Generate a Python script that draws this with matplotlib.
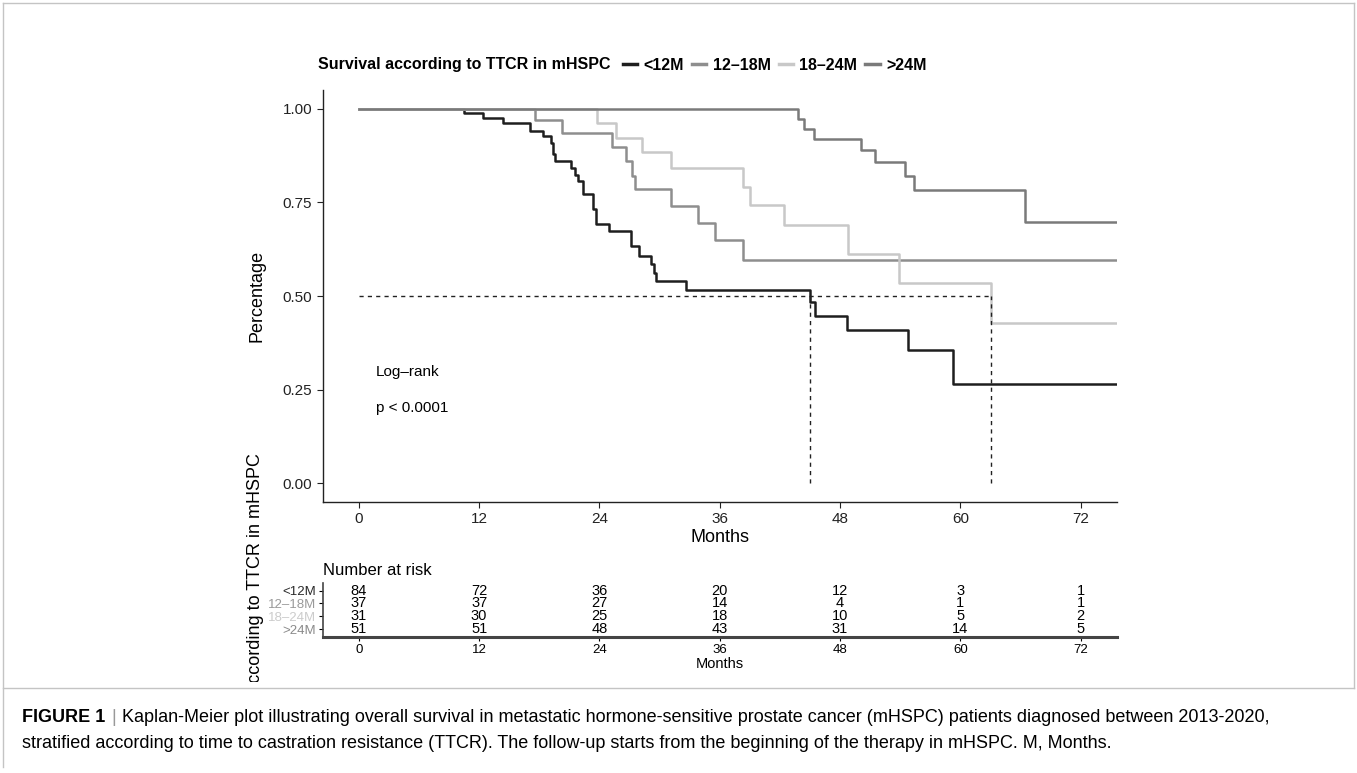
import matplotlib
matplotlib.use('Agg')
import matplotlib.pyplot as plt
from matplotlib.lines import Line2D
from matplotlib.patches import Rectangle

plt.rcParams['font.family'] = ['Liberation Sans', 'DejaVu Sans']

# --- data ---
groups = ['<12M', '12–18M', '18–24M', '>24M']
colors = ['#1e1e1e', '#8e8e8e', '#c8c8c8', '#7a7a7a']
label_colors = ['#2a2a2a', '#9a9a9a', '#cccccc', '#8a8a8a']

t_lt12 = [0, 10.5, 12.4, 14.4, 17.1, 18.4, 19.2, 19.4, 19.6, 21.2, 21.6, 21.9, 22.4,
          23.4, 23.7, 25.0, 27.2, 28.0, 29.1, 29.4, 29.6, 32.6, 45.0, 45.5, 48.7,
          54.8, 59.3, 76]
s_lt12 = [1.0, 0.988, 0.976, 0.962, 0.941, 0.926, 0.908, 0.878, 0.861, 0.842, 0.824,
          0.806, 0.772, 0.731, 0.692, 0.673, 0.633, 0.608, 0.585, 0.562, 0.540, 0.517,
          0.483, 0.446, 0.408, 0.356, 0.266, 0.266]

t_12_18 = [0, 17.6, 20.3, 25.3, 26.7, 27.3, 27.6, 31.1, 33.8, 35.5, 38.3, 76]
s_12_18 = [1.0, 0.969, 0.935, 0.897, 0.861, 0.821, 0.786, 0.741, 0.695, 0.649, 0.595, 0.595]

t_18_24 = [0, 23.8, 25.7, 28.2, 31.1, 38.3, 39.0, 42.4, 48.8, 53.9, 63.1, 76]
s_18_24 = [1.0, 0.962, 0.922, 0.885, 0.842, 0.791, 0.742, 0.689, 0.613, 0.535, 0.428, 0.428]

t_gt24 = [0, 43.8, 44.4, 45.4, 50.1, 51.5, 54.5, 55.4, 66.5, 76]
s_gt24 = [1.0, 0.973, 0.946, 0.919, 0.889, 0.857, 0.821, 0.784, 0.697, 0.697]

medians = [45.0, 63.1]

risk_times = [0, 12, 24, 36, 48, 60, 72]
risk_lt12 = [84, 72, 36, 20, 12, 3, 1]
risk_12_18 = [37, 37, 27, 14, 4, 1, 1]
risk_18_24 = [31, 30, 25, 18, 10, 5, 2]
risk_gt24 = [51, 51, 48, 43, 31, 14, 5]

caption_1 = ('Kaplan-Meier plot illustrating overall survival in metastatic hormone-sensitive '
             'prostate cancer (mHSPC) patients diagnosed between 2013-2020,')
caption_2 = ('stratified according to time to castration resistance (TTCR). The follow-up '
             'starts from the beginning of the therapy in mHSPC. M, Months.')

W, H = 1357, 773


def rect(l, t, r, b):
    return [l / W, 1 - b / H, (r - l) / W, (b - t) / H]


def fx(x):
    return x / W


def fy(y):
    return 1 - y / H


fig = plt.figure(figsize=(W / 100, H / 100), dpi=100)
renderer = fig.canvas.get_renderer()

# outer frame
frame_col = '#c4c4c4'
fig.add_artist(Line2D([fx(3), fx(1354)], [fy(3), fy(3)], color=frame_col, lw=1.0))
fig.add_artist(Line2D([fx(3), fx(3)], [fy(3), fy(767)], color=frame_col, lw=1.0))
fig.add_artist(Line2D([fx(1354), fx(1354)], [fy(3), fy(688)], color=frame_col, lw=1.0))
fig.add_artist(Line2D([fx(3), fx(1354)], [fy(688), fy(688)], color=frame_col, lw=1.0))

# caption
cap_size = 13
t1 = fig.text(fx(22), fy(718), 'FIGURE 1', fontsize=cap_size, fontweight='bold',
              va='center', ha='left')
x_end = t1.get_window_extent(renderer).x1
t2 = fig.text(fx(x_end + 6), fy(718), '|', fontsize=cap_size, color='#999999',
              va='center', ha='left')
x_end = t2.get_window_extent(renderer).x1
fig.text(fx(x_end + 6), fy(718), caption_1, fontsize=cap_size, va='center', ha='left')
fig.text(fx(22), fy(743), caption_2, fontsize=cap_size, va='center', ha='left')

# --- survival panel ---
ax = fig.add_axes(rect(322.7, 90, 1116.7, 502))
curves = [(t_lt12, s_lt12), (t_12_18, s_12_18), (t_18_24, s_18_24), (t_gt24, s_gt24)]
for (t, s), c in zip(curves, colors):
    ax.step(t, s, where='post', color=c, linewidth=1.8)

ax.plot([0, medians[1]], [0.5, 0.5], color='#222222', linestyle=(0, (3, 3)), linewidth=1.0)
for m in medians:
    ax.plot([m, m], [0, 0.5], color='#222222', linestyle=(0, (3, 3)), linewidth=1.0)

ax.set_xlim(-3.6, 75.6)
ax.set_ylim(-0.05, 1.05)
ax.set_xticks(risk_times)
ax.set_yticks([0, 0.25, 0.5, 0.75, 1.0])
ax.set_yticklabels(['0.00', '0.25', '0.50', '0.75', '1.00'])
ax.tick_params(labelsize=11, length=4, width=0.8, colors='#222222')
ax.spines['top'].set_visible(False)
ax.spines['right'].set_visible(False)
for sp in ['left', 'bottom']:
    ax.spines[sp].set_linewidth(1.0)
    ax.spines[sp].set_color('#222222')
ax.set_xlabel('Months', fontsize=13, labelpad=2)
ax.set_ylabel('Percentage', fontsize=13, labelpad=12)

ax.text(1.7, 0.296, 'Log–rank', fontsize=11, va='center', ha='left')
ax.text(1.7, 0.20, 'p < 0.0001', fontsize=11, va='center', ha='left')

# legend across the top
lt = fig.text(fx(318), fy(65), 'Survival according to TTCR in mHSPC', fontsize=11.5,
              fontweight='bold', va='center', ha='left')
x_end = lt.get_window_extent(renderer).x1
handles = [Line2D([], [], color=c, linewidth=2.5) for c in colors]
fig.legend(handles, groups, loc='center left', bbox_to_anchor=(fx(x_end + 12), fy(65)),
           ncol=4, frameon=False, handlelength=0.9, handletextpad=0.4, columnspacing=0.5,
           borderpad=0, borderaxespad=0, prop={'weight': 'bold', 'size': 11.5})

# --- risk table ---
rx = fig.add_axes(rect(322.7, 582.9, 1116.7, 636.7))
tables = [risk_lt12, risk_12_18, risk_18_24, risk_gt24]
rows = [4, 3, 2, 1]
for row, counts in zip(rows, tables):
    for t, n in zip(risk_times, counts):
        rx.text(t, row, str(n), fontsize=10.5, ha='center', va='center')
rx.set_xlim(-3.6, 75.6)
rx.set_ylim(0.4, 4.6)
rx.set_xticks(risk_times)
rx.set_yticks(rows)
rx.set_yticklabels(groups)
for lab, c in zip(rx.get_yticklabels(), label_colors):
    lab.set_color(c)
rx.tick_params(axis='y', labelsize=9.5, length=3, pad=2)
rx.tick_params(axis='x', labelsize=9.5, length=3, pad=2)
rx.spines['top'].set_visible(False)
rx.spines['right'].set_visible(False)
rx.spines['bottom'].set_linewidth(2.2)
rx.spines['bottom'].set_color('#444444')
rx.spines['left'].set_linewidth(1.2)
rx.spines['left'].set_color('#444444')
rx.set_xlabel('Months', fontsize=10.5, labelpad=1)
rx.set_title('Number at risk', fontsize=12, loc='left', pad=6)

ylab = fig.text(fx(255), fy(608), 'Survival according to TTCR in mHSPC', fontsize=13,
                rotation=90, ha='center', va='center')
ylab.set_clip_path(Rectangle((0, fy(682)), 1, 682 / H, transform=fig.transFigure))

fig.savefig('out.png', dpi=100)
